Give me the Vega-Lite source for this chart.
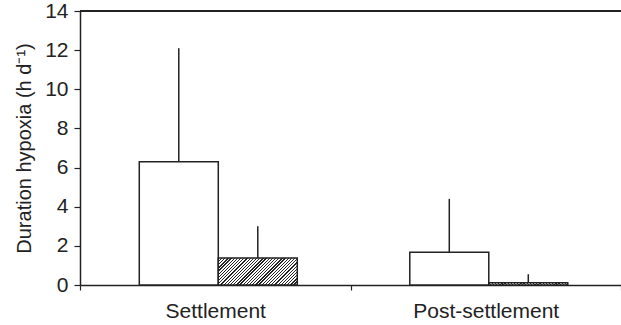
{
  "$schema": "https://vega.github.io/schema/vega-lite/v6.json",
  "width": 541,
  "height": 274,
  "autosize": {"type": "none"},
  "padding": {"left": 80, "top": 11, "right": 0, "bottom": 40},
  "background": "white",
  "config": {
    "view": {"stroke": null},
    "font": "Liberation Sans",
    "axis": {
      "domainColor": "#222",
      "domainWidth": 1.5,
      "tickColor": "#222",
      "tickWidth": 1.2,
      "labelColor": "#222",
      "titleColor": "#222",
      "labelFont": "Liberation Sans",
      "titleFont": "Liberation Sans",
      "grid": false
    },
    "axisY": {
      "labelOverlap": false,
      "labelBound": false,
      "tickSize": 6,
      "labelPadding": 6,
      "labelFontSize": 21,
      "titleFontSize": 20,
      "titleFontWeight": "normal",
      "titlePadding": 10
    },
    "axisX": {
      "labelAngle": 0,
      "labelFontSize": 21,
      "tickBand": "extent",
      "tickSize": 5,
      "labelPadding": 10
    }
  },
  "data": {
    "values": [
      {"stage": "Settlement", "series": "a", "mean": 6.3, "upper": 12.1},
      {"stage": "Settlement", "series": "b", "mean": 1.38, "upper": 3.0},
      {"stage": "Post-settlement", "series": "a", "mean": 1.67, "upper": 4.4},
      {"stage": "Post-settlement", "series": "b", "mean": 0.12, "upper": 0.55}
    ]
  },
  "encoding": {
    "x": {
      "field": "stage",
      "type": "nominal",
      "sort": ["Settlement", "Post-settlement"],
      "scale": {"paddingInner": 0, "paddingOuter": 0},
      "axis": {"title": null}
    },
    "xOffset": {
      "field": "series",
      "type": "nominal",
      "scale": {"paddingInner": 0, "paddingOuter": 0.712, "align": 0.527}
    },
    "y": {
      "field": "mean",
      "type": "quantitative",
      "scale": {"domain": [0, 14], "nice": false},
      "axis": {
        "title": "Duration hypoxia (h d⁻¹)",
        "values": [0, 2, 4, 6, 8, 10, 12, 14],
        "labelOverlap": false
      }
    }
  },
  "layer": [
    {
      "mark": {"type": "bar", "stroke": "#222", "strokeWidth": 1.5},
      "encoding": {
        "fill": {
          "condition": {
            "test": "datum.series === 'b'",
            "value": {
              "gradient": "linear",
              "x1": 0, "y1": 0, "x2": 1.2, "y2": 0.41,
              "stops": [
                {"offset": 0, "color": "#222"}, {"offset": 0.012, "color": "#222"}, {"offset": 0.012, "color": "#fff"}, {"offset": 0.03, "color": "#fff"},
                {"offset": 0.03, "color": "#222"}, {"offset": 0.042, "color": "#222"}, {"offset": 0.042, "color": "#fff"}, {"offset": 0.06, "color": "#fff"},
                {"offset": 0.06, "color": "#222"}, {"offset": 0.072, "color": "#222"}, {"offset": 0.072, "color": "#fff"}, {"offset": 0.09, "color": "#fff"},
                {"offset": 0.09, "color": "#222"}, {"offset": 0.102, "color": "#222"}, {"offset": 0.102, "color": "#fff"}, {"offset": 0.12, "color": "#fff"},
                {"offset": 0.12, "color": "#222"}, {"offset": 0.132, "color": "#222"}, {"offset": 0.132, "color": "#fff"}, {"offset": 0.15, "color": "#fff"},
                {"offset": 0.15, "color": "#222"}, {"offset": 0.162, "color": "#222"}, {"offset": 0.162, "color": "#fff"}, {"offset": 0.18, "color": "#fff"},
                {"offset": 0.18, "color": "#222"}, {"offset": 0.192, "color": "#222"}, {"offset": 0.192, "color": "#fff"}, {"offset": 0.21, "color": "#fff"},
                {"offset": 0.21, "color": "#222"}, {"offset": 0.222, "color": "#222"}, {"offset": 0.222, "color": "#fff"}, {"offset": 0.24, "color": "#fff"},
                {"offset": 0.24, "color": "#222"}, {"offset": 0.252, "color": "#222"}, {"offset": 0.252, "color": "#fff"}, {"offset": 0.27, "color": "#fff"},
                {"offset": 0.27, "color": "#222"}, {"offset": 0.282, "color": "#222"}, {"offset": 0.282, "color": "#fff"}, {"offset": 0.3, "color": "#fff"},
                {"offset": 0.3, "color": "#222"}, {"offset": 0.312, "color": "#222"}, {"offset": 0.312, "color": "#fff"}, {"offset": 0.33, "color": "#fff"},
                {"offset": 0.33, "color": "#222"}, {"offset": 0.342, "color": "#222"}, {"offset": 0.342, "color": "#fff"}, {"offset": 0.36, "color": "#fff"},
                {"offset": 0.36, "color": "#222"}, {"offset": 0.372, "color": "#222"}, {"offset": 0.372, "color": "#fff"}, {"offset": 0.39, "color": "#fff"},
                {"offset": 0.39, "color": "#222"}, {"offset": 0.402, "color": "#222"}, {"offset": 0.402, "color": "#fff"}, {"offset": 0.42, "color": "#fff"},
                {"offset": 0.42, "color": "#222"}, {"offset": 0.432, "color": "#222"}, {"offset": 0.432, "color": "#fff"}, {"offset": 0.45, "color": "#fff"},
                {"offset": 0.45, "color": "#222"}, {"offset": 0.462, "color": "#222"}, {"offset": 0.462, "color": "#fff"}, {"offset": 0.48, "color": "#fff"},
                {"offset": 0.48, "color": "#222"}, {"offset": 0.492, "color": "#222"}, {"offset": 0.492, "color": "#fff"}, {"offset": 0.51, "color": "#fff"},
                {"offset": 0.51, "color": "#222"}, {"offset": 0.522, "color": "#222"}, {"offset": 0.522, "color": "#fff"}, {"offset": 0.54, "color": "#fff"},
                {"offset": 0.54, "color": "#222"}, {"offset": 0.552, "color": "#222"}, {"offset": 0.552, "color": "#fff"}, {"offset": 0.57, "color": "#fff"},
                {"offset": 0.57, "color": "#222"}, {"offset": 0.582, "color": "#222"}, {"offset": 0.582, "color": "#fff"}, {"offset": 0.6, "color": "#fff"},
                {"offset": 0.6, "color": "#222"}, {"offset": 0.612, "color": "#222"}, {"offset": 0.612, "color": "#fff"}, {"offset": 0.63, "color": "#fff"},
                {"offset": 0.63, "color": "#222"}, {"offset": 0.642, "color": "#222"}, {"offset": 0.642, "color": "#fff"}, {"offset": 0.66, "color": "#fff"},
                {"offset": 0.66, "color": "#222"}, {"offset": 0.672, "color": "#222"}, {"offset": 0.672, "color": "#fff"}, {"offset": 0.69, "color": "#fff"},
                {"offset": 0.69, "color": "#222"}, {"offset": 0.702, "color": "#222"}, {"offset": 0.702, "color": "#fff"}, {"offset": 0.72, "color": "#fff"},
                {"offset": 0.72, "color": "#222"}, {"offset": 0.732, "color": "#222"}, {"offset": 0.732, "color": "#fff"}, {"offset": 0.75, "color": "#fff"},
                {"offset": 0.75, "color": "#222"}, {"offset": 0.762, "color": "#222"}, {"offset": 0.762, "color": "#fff"}, {"offset": 0.78, "color": "#fff"},
                {"offset": 0.78, "color": "#222"}, {"offset": 0.792, "color": "#222"}, {"offset": 0.792, "color": "#fff"}, {"offset": 0.81, "color": "#fff"},
                {"offset": 0.81, "color": "#222"}, {"offset": 0.822, "color": "#222"}, {"offset": 0.822, "color": "#fff"}, {"offset": 0.84, "color": "#fff"},
                {"offset": 0.84, "color": "#222"}, {"offset": 0.852, "color": "#222"}, {"offset": 0.852, "color": "#fff"}, {"offset": 0.87, "color": "#fff"},
                {"offset": 0.87, "color": "#222"}, {"offset": 0.882, "color": "#222"}, {"offset": 0.882, "color": "#fff"}, {"offset": 0.9, "color": "#fff"},
                {"offset": 0.9, "color": "#222"}, {"offset": 0.912, "color": "#222"}, {"offset": 0.912, "color": "#fff"}, {"offset": 0.93, "color": "#fff"},
                {"offset": 0.93, "color": "#222"}, {"offset": 0.942, "color": "#222"}, {"offset": 0.942, "color": "#fff"}, {"offset": 0.96, "color": "#fff"},
                {"offset": 0.96, "color": "#222"}, {"offset": 0.972, "color": "#222"}, {"offset": 0.972, "color": "#fff"}, {"offset": 0.99, "color": "#fff"},
                {"offset": 0.99, "color": "#222"}, {"offset": 1, "color": "#222"}
              ]
            }
          },
          "value": "#fff"
        }
      }
    },
    {
      "mark": {"type": "rule", "stroke": "#222", "strokeWidth": 1.5},
      "encoding": {
        "y2": {"field": "upper"}
      }
    },
    {
      "mark": {"type": "rule", "stroke": "#222", "strokeWidth": 1.5},
      "encoding": {
        "x": null,
        "xOffset": null,
        "y": {"datum": 14, "type": "quantitative"}
      }
    }
  ]
}
